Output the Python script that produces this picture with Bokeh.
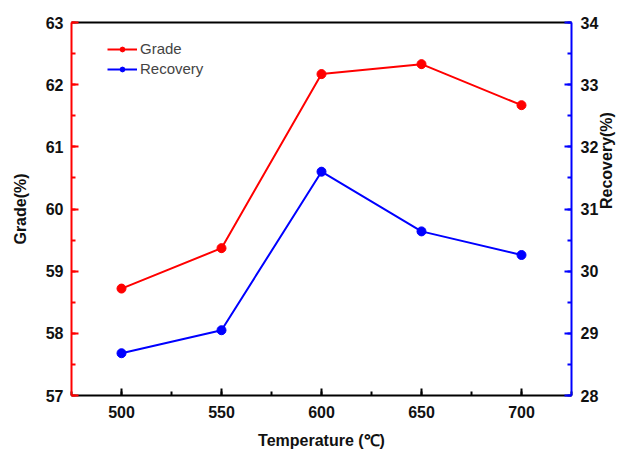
import math
from bokeh.plotting import figure
from bokeh.models import (Range1d, LinearAxis, SingleIntervalTicker, FixedTicker, Whisker,
                          ColumnDataSource, Legend, LegendItem)
from bokeh.embed import file_html
from bokeh.resources import INLINE

temperature = [500, 550, 600, 650, 700]
grade = [58.72, 59.37, 62.17, 62.33, 61.67]
grade_err = [0.07, 0.07, 0.07, 0.07, 0.06]
recovery = [28.68, 29.05, 31.60, 30.64, 30.26]
recovery_err = [0.06, 0.06, 0.07, 0.06, 0.06]

FONT = "Liberation Sans"

p = figure(width=628, height=453, output_backend="svg", toolbar_location=None,
           x_range=Range1d(475, 725), y_range=Range1d(57, 63),
           min_border_left=71, min_border_right=57, min_border_top=22, min_border_bottom=58,
           x_axis_location=None, y_axis_location=None)
p.extra_y_ranges = {"rec": Range1d(28, 34)}
p.grid.visible = False
p.outline_line_color = None
p.background_fill_color = "white"


def style_axis(ax, color, ticker):
    ax.ticker = ticker
    ax.axis_line_color = color
    ax.axis_line_width = 2
    ax.major_tick_line_color = color
    ax.minor_tick_line_color = color
    ax.major_tick_line_width = 2
    ax.minor_tick_line_width = 2
    ax.major_tick_in = 7
    ax.major_tick_out = 0
    ax.minor_tick_in = 4
    ax.minor_tick_out = 0
    ax.major_label_text_font = FONT
    ax.major_label_text_font_style = "bold"
    ax.major_label_text_font_size = "16px"
    ax.major_label_text_color = "#111111"
    ax.axis_label_text_font = FONT
    ax.axis_label_text_font_style = "bold"
    ax.axis_label_text_font_size = "16px"
    ax.axis_label_text_color = "#111111"


xaxis = LinearAxis(axis_label="Temperature (\u2103)")
style_axis(xaxis, "black", SingleIntervalTicker(interval=50, num_minor_ticks=2))
xaxis.major_label_standoff = 10
xaxis.axis_label_standoff = 11
p.add_layout(xaxis, "below")

# plain black frame edge along the top
top = LinearAxis()
style_axis(top, "black", FixedTicker(ticks=[]))
p.add_layout(top, "above")

left = LinearAxis(axis_label="Grade(%)")
style_axis(left, "red", SingleIntervalTicker(interval=1, num_minor_ticks=2))
left.major_label_standoff = 8
left.axis_label_standoff = 14
p.add_layout(left, "left")

right = LinearAxis(y_range_name="rec", axis_label="Recovery(%)")
style_axis(right, "blue", SingleIntervalTicker(interval=1, num_minor_ticks=2))
right.major_label_standoff = 9
right.axis_label_standoff = 5
right.axis_label_orientation = math.pi / 2
p.add_layout(right, "right")

src_g = ColumnDataSource(dict(
    x=temperature, y=grade,
    lo=[v - e for v, e in zip(grade, grade_err)],
    hi=[v + e for v, e in zip(grade, grade_err)]))
src_r = ColumnDataSource(dict(
    x=temperature, y=recovery,
    lo=[v - e for v, e in zip(recovery, recovery_err)],
    hi=[v + e for v, e in zip(recovery, recovery_err)]))

gl = p.line("x", "y", source=src_g, line_color="red", line_width=2)
gm = p.scatter("x", "y", source=src_g, size=9, fill_color="red", line_color="red")
p.add_layout(Whisker(source=src_g, base="x", lower="lo", upper="hi", line_color="red",
                     line_width=2, upper_head=None, lower_head=None))

rl = p.line("x", "y", source=src_r, line_color="blue", line_width=2, y_range_name="rec")
rm = p.scatter("x", "y", source=src_r, size=9, fill_color="blue", line_color="blue",
               y_range_name="rec")
p.add_layout(Whisker(source=src_r, base="x", lower="lo", upper="hi", line_color="blue",
                     line_width=2, y_range_name="rec", upper_head=None, lower_head=None))

legend = Legend(items=[LegendItem(label="Grade", renderers=[gl, gm]),
                       LegendItem(label="Recovery", renderers=[rl, rm])],
                location=(36, 318), border_line_color=None, background_fill_alpha=0,
                label_text_font=FONT, label_text_font_size="15px",
                glyph_width=30, glyph_height=12, spacing=3, label_standoff=3,
                padding=6, margin=0)
p.add_layout(legend, "center")

with open("out.html", "w") as f:
    f.write(file_html(p, INLINE))
